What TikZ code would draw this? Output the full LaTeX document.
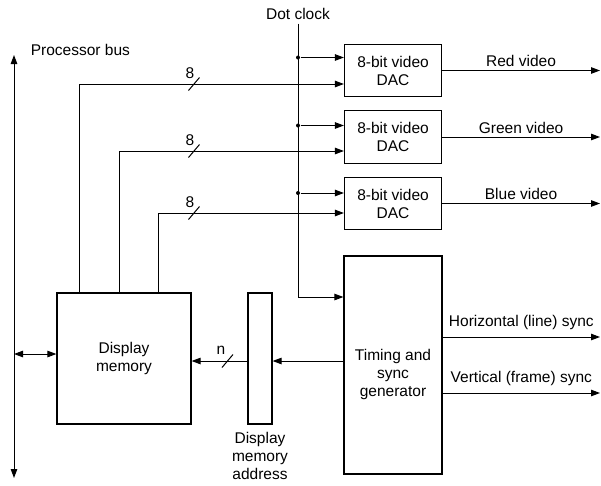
\documentclass[tikz,border=0pt]{standalone}
\usepackage{fontspec}
\setmainfont{Liberation Sans}
\usetikzlibrary{arrows.meta, positioning, calc}

\begin{document}
\begin{tikzpicture}[
    x=1pt, y=-1pt,
    font=\fontsize{15.5}{18}\selectfont,
    line width=1pt,
    >={Triangle[length=9pt, width=6.5pt]},
    block/.style={draw, line width=1.2pt, align=center, inner sep=2pt},
    dot/.style={circle, fill, minimum size=4pt, inner sep=0pt},
]
\useasboundingbox (0,0) rectangle (601,485);

% processor bus
\coordinate (bustop) at (14,55);
\coordinate (busbot) at (14,478);
\draw[<->] (busbot) -- (bustop);
\node[anchor=west] (buslbl) at (27,50) {Processor bus};

% blocks
\node[block, minimum width=134pt, minimum height=131pt] (mem) at (124,358.5) {Display\\memory};
\node[block, minimum width=24pt, minimum height=131pt] (addr) at (260,358.5) {};
\node[align=center, below=4pt of addr] (addrlbl) {Display\\memory\\address};
\node[block, minimum width=98pt, minimum height=218pt,
    label={[align=center, yshift=-9pt]center:Timing and\\sync\\generator}] (timing) at (393,365) {};

% dot clock
\node (clk) at (298,14) {Dot clock};
\coordinate (clkturn) at (298,297);
\draw[->] (clk.south) -- (clkturn) -- (clkturn -| timing.west);

\coordinate (rend) at (600,0);

% DACs
\foreach \yc/\yk/\yd/\xd/\out [count=\i] in {%
    70.5/57.5/84/79/Red video,
    137/125.5/151/119/Green video,
    203.5/193/213/158/Blue video%
}{
    \node[block, minimum width=97pt, minimum height=52.5pt] (dac\i) at (393,\yc) {8-bit video\\DAC};
    \node[dot] (tap\i) at (298,\yk) {};
    \draw[->] (tap\i) -- (tap\i -| dac\i.west);
    \coordinate (data\i) at (\xd,\yd);
    \draw[->] (data\i |- mem.north) -- (data\i) -- (data\i -| dac\i.west);
    \draw (194-5.5,\yd+6.5) -- ++(11,-13);
    \node (w\i) at (190,\yd-11) {8};
    \draw[->] (dac\i.east) -- (dac\i.east -| rend) node[midway, above] (o\i) {\out};
}

% sync outputs
\coordinate (hs) at (393,337);
\coordinate (vs) at (393,393);
\draw[->] (hs -| timing.east) -- (hs -| rend) node[midway, above=3pt] (hslbl) {Horizontal (line) sync};
\draw[->] (vs -| timing.east) -- (vs -| rend) node[midway, above=3pt] (vslbl) {Vertical (frame) sync};

% address path
\coordinate (alink) at (0,361);
\draw[->] (alink -| timing.west) -- (alink -| addr.east);
\draw[->] (alink -| addr.west) -- (alink -| mem.east);
\draw (227.5-5.5,361+6.5) -- ++(11,-13);
\node (nlbl) at (221,350) {n};

% memory <-> bus
\coordinate (mlink) at (14,354);
\draw[<->] (mlink) -- (mlink -| mem.west);

\end{tikzpicture}
\end{document}
